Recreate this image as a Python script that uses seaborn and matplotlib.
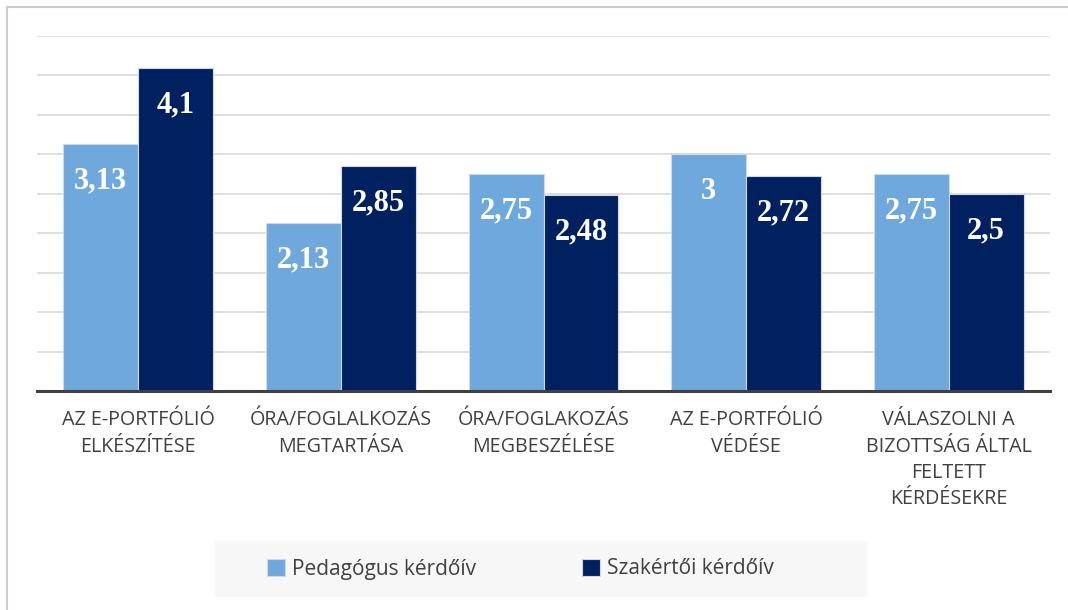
import pandas as pd
import numpy as np
import matplotlib
matplotlib.use("Agg")
import matplotlib.pyplot as plt
import seaborn as sns
from matplotlib.patches import Rectangle

# categories and values
categories = [
    "AZ E-PORTFÓLIÓ\nELKÉSZÍTÉSE",
    "ÓRA/FOGLALKOZÁS\nMEGTARTÁSA",
    "ÓRA/FOGLAKOZÁS\nMEGBESZÉLÉSE",
    "AZ E-PORTFÓLIÓ\nVÉDÉSE",
    "VÁLASZOLNI A\nBIZOTTSÁG ÁLTAL\nFELTETT\nKÉRDÉSEKRE",
]
series_names = ["Pedagógus kérdőív", "Szakértői kérdőív"]
pedagogus = [3.13, 2.13, 2.75, 3.0, 2.75]
szakertoi = [4.1, 2.85, 2.48, 2.72, 2.5]
colors = ["#6FA8DC", "#002060"]

df = pd.DataFrame({
    "cat": categories * 2,
    "series": [series_names[0]] * 5 + [series_names[1]] * 5,
    "value": pedagogus + szakertoi,
})

sns.set_theme(style="white")
plt.rcParams["font.family"] = ["Open Sans", "DejaVu Sans"]

fig = plt.figure(figsize=(10.68, 6.10), dpi=100)
ax = fig.add_axes([37/1068, 1 - 391/610, (1050 - 37)/1068, (391 - 36)/610])

sns.barplot(
    data=df, x="cat", y="value", hue="series",
    order=categories, hue_order=series_names,
    palette=colors, saturation=1, width=0.74, ax=ax,
    edgecolor="#cfd9e6", linewidth=0.8, legend=True,
)

ax.set_ylim(0, 4.5)
ax.set_yticks(np.arange(0, 4.51, 0.5))
ax.set_yticklabels([])
ax.tick_params(axis="y", length=0)
ax.yaxis.grid(True, color="#d9d9d9", linewidth=1.2)
ax.set_axisbelow(True)
ax.set_xlim(-0.5, 4.5)
ax.set_xlabel("")
ax.set_ylabel("")
for s in ["top", "right", "left"]:
    ax.spines[s].set_visible(False)
ax.spines["bottom"].set_color("#404040")
ax.spines["bottom"].set_linewidth(2.2)
ax.tick_params(axis="x", length=0, pad=14, labelsize=14.2, labelcolor="#404040")
for lab in ax.get_xticklabels():
    lab.set_linespacing(1.42)
    lab.set_verticalalignment("top")

# value labels inside the top of each bar
for cont, vals in zip(ax.containers, [pedagogus, szakertoi]):
    ax.bar_label(
        cont, labels=[f"{v:g}".replace(".", ",") for v in vals],
        padding=-37, color="white", fontsize=22, fontweight="bold",
        family="Liberation Serif",
    )

handles = [ax.containers[0][0], ax.containers[1][0]]
ax.legend_.remove()

# legend background box
fig.add_artist(Rectangle((215/1068, 1 - 597/610), (868 - 215)/1068, 56/610,
                         transform=fig.transFigure, facecolor="#f7f7f7",
                         edgecolor="none", zorder=0))
leg = fig.legend(
    handles=handles, labels=series_names, loc="center left",
    bbox_to_anchor=(267/1068, 1 - 569/610),
    ncol=2, frameon=False, fontsize=15, handlelength=0.87, handleheight=0.87,
    columnspacing=5.1, handletextpad=0.33, borderpad=0, borderaxespad=0,
)
for t in leg.get_texts():
    t.set_color("#404040")

# outer frame lines (top and left)
fig.add_artist(Rectangle((7/1068, -0.1), 1.2, 1 - 7/610 + 0.1,
                         transform=fig.transFigure, fill=False,
                         edgecolor="#cccccc", linewidth=1.5))

fig.savefig("out.png", dpi=100)
